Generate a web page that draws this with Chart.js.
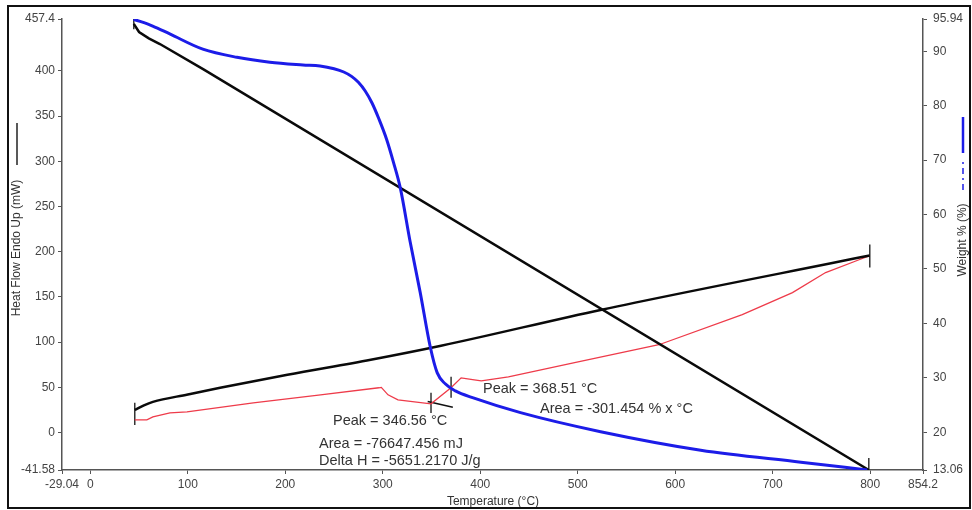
<!DOCTYPE html>
<html>
<head>
<meta charset="utf-8">
<script src="https://cdn.jsdelivr.net/npm/chart.js@4.4.0/dist/chart.umd.min.js"></script>
<style>
  html, body { margin: 0; padding: 0; background: #fff; }
  #wrap { position: relative; width: 972px; height: 510px; }
  #frame { position: absolute; left: 7px; top: 5px; width: 960px; height: 500px; border: 2px solid #111; pointer-events: none; }
  canvas { position: absolute; left: 0; top: 0; }
</style>
</head>
<body>
<div id="wrap"><canvas id="dsc" width="972" height="510"></canvas><div id="frame"></div></div>
<script>
////Axis ticks
const tempTicks = [-29.04, 0, 100, 200, 300, 400, 500, 600, 700, 800, 854.2];
const heatTicks = [-41.58, 0, 50, 100, 150, 200, 250, 300, 350, 400, 457.4];
const weightTicks = [13.06, 20, 30, 40, 50, 60, 70, 80, 90, 95.94];

////Weight % curve (right axis)
const weightTemp = [44.5, 64, 81.5, 115.4, 150.4, 184.2, 218.2, 235.7, 250, 260, 268, 275, 282, 289, 296, 304, 311, 318, 328.1, 338.4, 348.7, 355.9, 364.1, 374.4, 392.9, 441.3, 523.5, 626.2, 729, 797];
const weightPct = [95.9, 94.65, 93.2, 90.4, 88.9, 88.0, 87.5, 87.3, 86.8, 86.2, 85.4, 84.3, 82.7, 80.5, 77.6, 73.8, 69.6, 64.9, 55.0, 45.7, 35.7, 30.9, 28.9, 27.6, 26.3, 23.6, 20.1, 16.7, 14.5, 13.06];

////Heat flow curve (red) and its baseline (black), left axis
const heatTemp = [45.6, 58, 64.2, 81.7, 99.2, 167.2, 236.2, 296, 298.5, 305.4, 315.6, 349.5, 370, 380.4, 393.9, 401.1, 428.9, 496.8, 583.3, 668.8, 720.3, 754.3, 789.3, 799.6];
const heatFlow = [13.9, 13.9, 17.2, 21.6, 22.7, 32.7, 41.6, 49.4, 49.8, 41.6, 36.0, 31.6, 49.4, 60.4, 58.2, 57.1, 61.5, 77.1, 97.0, 130.3, 154.7, 176.9, 191.3, 195.7];
const baseTemp = [45.6, 55, 64.2, 100, 133.2, 202.2, 287.7, 359.8, 524.6, 799.6];
const baseFlow = [24.9, 30, 33.8, 42, 49.4, 63.8, 80.4, 95.9, 135.8, 195.7];

////Falling black trace, left axis
const fallTemp = [44.6, 50, 60, 71.4, 115.7, 798.6];
const fallFlow = [452, 443, 436, 429.7, 402, -41.58];

////Limit / peak markers: [temp, low, high]
const markers = [
  [45.6, 8.3, 32.7],
  [799.6, 182.4, 207.9],
  [798.6, -41.58, -28.3],
  [44.6, 446, 457.4],
  [349.5, 21.6, 43.8],
  [370.1, 38.3, 61.5]
];
const tangentTemp = [346.1, 371.9];
const tangentFlow = [34.2, 27.9];

const FONT = "'Liberation Sans', Arial, sans-serif";

function zip(xs, ys) {
  return xs.map((x, i) => ({ x: x, y: ys[i] }));
}

let datasets = [
  { data: zip(weightTemp, weightPct), yAxisID: 'y2', borderColor: '#1c1ce8', borderWidth: 3, cubicInterpolationMode: 'monotone' },
  { data: zip(fallTemp, fallFlow), yAxisID: 'y', borderColor: '#0a0a0a', borderWidth: 2.5 },
  { data: zip(baseTemp, baseFlow), yAxisID: 'y', borderColor: '#0a0a0a', borderWidth: 2.5, cubicInterpolationMode: 'monotone' },
  { data: zip(heatTemp, heatFlow), yAxisID: 'y', borderColor: '#ee3b4a', borderWidth: 1.3 },
  { data: zip(tangentTemp, tangentFlow), yAxisID: 'y', borderColor: '#111', borderWidth: 1.5 }
];
for (let m of markers) {
  datasets.push({ data: [{ x: m[0], y: m[1] }, { x: m[0], y: m[2] }], yAxisID: 'y', borderColor: '#333', borderWidth: 1.5 });
}

//Text drawn on top of the chart: peak results and axis titles
const notesPlugin = {
  id: 'notes',
  afterDraw(chart) {
    const ctx = chart.ctx;
    ctx.save();
    ctx.fillStyle = '#333';
    ctx.textBaseline = 'middle';
    ctx.textAlign = 'left';
    ctx.font = '14.5px ' + FONT;
    ctx.fillText('Peak = 346.56 °C', 333, 421);
    ctx.fillText('Area = -76647.456 mJ', 319, 444);
    ctx.fillText('Delta H = -5651.2170 J/g', 319, 461);
    ctx.fillText('Peak = 368.51 °C', 483, 389);
    ctx.fillText('Area = -301.454 % x °C', 540, 409);

    //x title
    ctx.font = '12px ' + FONT;
    ctx.textAlign = 'center';
    ctx.fillText('Temperature (°C)', 493, 502);

    //left title + legend line
    ctx.save();
    ctx.translate(17, 248);
    ctx.rotate(-Math.PI / 2);
    ctx.fillText('Heat Flow Endo Up (mW)', 0, 0);
    ctx.restore();
    ctx.strokeStyle = '#222';
    ctx.lineWidth = 1.5;
    ctx.beginPath();
    ctx.moveTo(17, 165);
    ctx.lineTo(17, 123);
    ctx.stroke();

    //right title + legend lines
    ctx.save();
    ctx.translate(963, 240);
    ctx.rotate(-Math.PI / 2);
    ctx.fillText('Weight % (%)', 0, 0);
    ctx.restore();
    ctx.strokeStyle = '#1c1ce8';
    ctx.lineWidth = 2.5;
    ctx.beginPath();
    ctx.moveTo(963, 153);
    ctx.lineTo(963, 117);
    ctx.stroke();
    ctx.lineWidth = 1.5;
    ctx.setLineDash([6, 4, 2, 4]);
    ctx.beginPath();
    ctx.moveTo(963, 190);
    ctx.lineTo(963, 158);
    ctx.stroke();
    ctx.restore();
  }
};

function axisStyle(ticks) {
  return {
    type: 'linear',
    min: ticks[0],
    max: ticks[ticks.length - 1],
    afterBuildTicks: s => { s.ticks = ticks.map(v => ({ value: v })); },
    grid: { display: true, drawOnChartArea: false, drawTicks: true, tickLength: 4, color: '#555' },
    border: { display: true, color: '#555', width: 1.5 },
    ticks: { color: '#444', font: { family: FONT, size: 12 }, autoSkip: false, maxRotation: 0, callback: v => String(v) }
  };
}

let xAxis = axisStyle(tempTicks);
xAxis.position = 'bottom';
xAxis.afterFit = s => { s.height = 40; };
xAxis.ticks.padding = 3;

let yAxis = axisStyle(heatTicks);
yAxis.position = 'left';
yAxis.afterFit = s => { s.width = 62; };
yAxis.ticks.padding = 3;

let y2Axis = axisStyle(weightTicks);
y2Axis.position = 'right';
y2Axis.afterFit = s => { s.width = 49; };
y2Axis.ticks.padding = 6;

var ctx = document.getElementById('dsc').getContext('2d');
var dscChart = new Chart(ctx, {
  type: 'line',
  data: { datasets: datasets },
  options: {
    responsive: false,
    animation: false,
    layout: { padding: { top: 19, left: 0, right: 0, bottom: 0 } },
    elements: { point: { radius: 0 }, line: { tension: 0 } },
    plugins: { legend: { display: false }, tooltip: { enabled: false } },
    scales: { x: xAxis, y: yAxis, y2: y2Axis }
  },
  plugins: [notesPlugin]
});
</script>
</body>
</html>
